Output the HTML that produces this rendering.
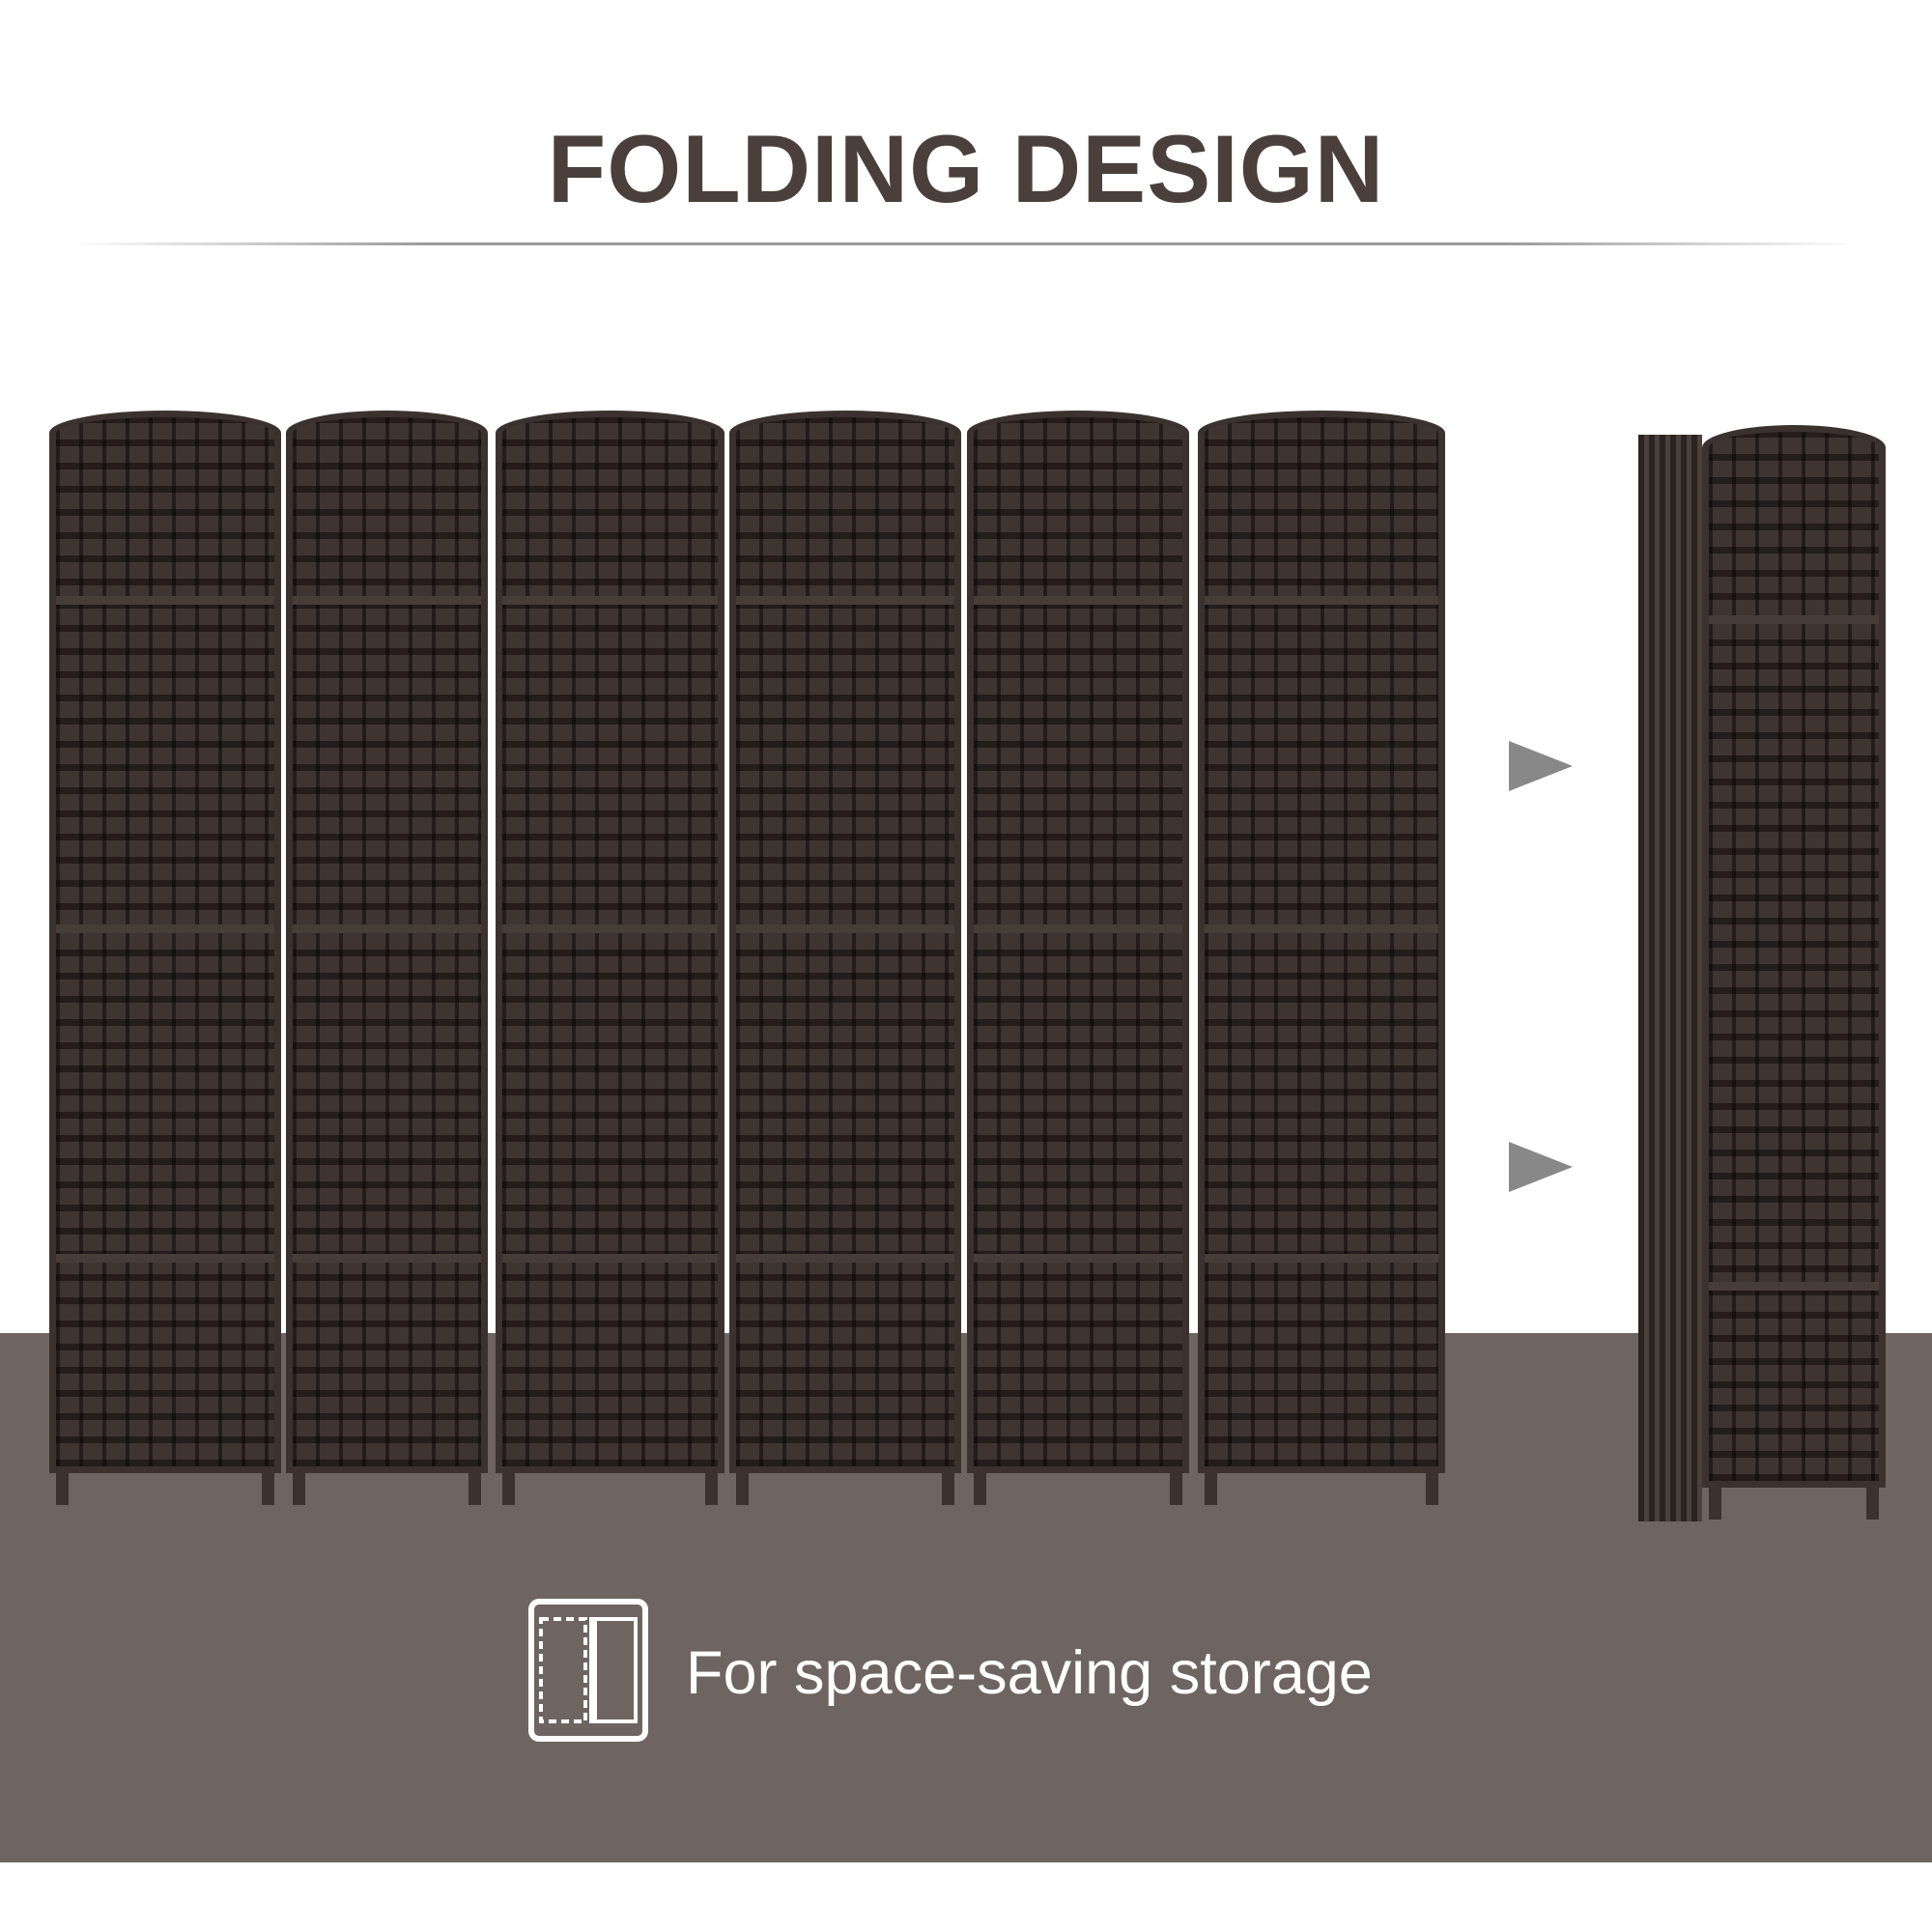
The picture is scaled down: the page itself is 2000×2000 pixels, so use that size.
<!DOCTYPE html>
<html><head><meta charset="utf-8"><style>
body{margin:0;width:2000px;height:2000px;background:#fff;position:relative;overflow:hidden;font-family:"Liberation Sans",sans-serif}
.title{position:absolute;left:0;width:2000px;top:118px;text-align:center;font-weight:bold;font-size:99px;color:#4a3f3b;letter-spacing:1px}
.line{position:absolute;left:75px;width:1850px;top:251px;height:3px;background:linear-gradient(90deg,rgba(150,150,150,0),#999 20%,#999 80%,rgba(150,150,150,0))}
.floor{position:absolute;left:0;top:1380px;width:2000px;height:548px;background:#6e6562}
.panel{position:absolute;top:425px;height:1100px;background:
repeating-linear-gradient(90deg,rgba(0,0,0,.45) 0 4px,transparent 4px 24px),
repeating-linear-gradient(0deg,#241d1b 0 7px,#3e3532 7px 24px);
border:7px solid #3b322f;border-radius:60% 60% 0 0/28px 28px 0 0;box-sizing:border-box}
.rail{position:absolute;left:0;right:0;height:9px;background:#463c38}
.leg{position:absolute;bottom:-40px;width:13px;height:40px;background:#3b322f}
.arrow{position:absolute;width:0;height:0;border-left:66px solid #888;border-top:26px solid transparent;border-bottom:26px solid transparent}
.text{position:absolute;left:710px;top:1696px;color:#fff;font-size:63px}
</style></head><body>
<div class="title">FOLDING DESIGN</div>
<div class="line"></div>
<div class="floor"></div>

<div class="panel" style="left:51px;width:240px"><div class="rail" style="top:185px"></div><div class="rail" style="top:525px"></div><div class="rail" style="top:866px"></div><div class="leg" style="left:0"></div><div class="leg" style="right:0"></div></div>
<div class="panel" style="left:296px;width:209px"><div class="rail" style="top:185px"></div><div class="rail" style="top:525px"></div><div class="rail" style="top:866px"></div><div class="leg" style="left:0"></div><div class="leg" style="right:0"></div></div>
<div class="panel" style="left:513px;width:237px"><div class="rail" style="top:185px"></div><div class="rail" style="top:525px"></div><div class="rail" style="top:866px"></div><div class="leg" style="left:0"></div><div class="leg" style="right:0"></div></div>
<div class="panel" style="left:755px;width:240px"><div class="rail" style="top:185px"></div><div class="rail" style="top:525px"></div><div class="rail" style="top:866px"></div><div class="leg" style="left:0"></div><div class="leg" style="right:0"></div></div>
<div class="panel" style="left:1001px;width:230px"><div class="rail" style="top:185px"></div><div class="rail" style="top:525px"></div><div class="rail" style="top:866px"></div><div class="leg" style="left:0"></div><div class="leg" style="right:0"></div></div>
<div class="panel" style="left:1240px;width:256px"><div class="rail" style="top:185px"></div><div class="rail" style="top:525px"></div><div class="rail" style="top:866px"></div><div class="leg" style="left:0"></div><div class="leg" style="right:0"></div></div>

<div class="arrow" style="left:1562px;top:767px"></div>
<div class="arrow" style="left:1562px;top:1182px"></div>

<div style="position:absolute;left:1696px;top:450px;width:66px;height:1125px;background:repeating-linear-gradient(90deg,#2b2321 0 6px,#4a403c 6px 11px)"></div>
<div class="panel" style="left:1762px;top:440px;width:190px;height:1100px"><div class="rail" style="top:190px"></div><div class="rail" style="top:880px"></div><div class="leg" style="left:0"></div><div class="leg" style="right:0"></div></div>

<svg style="position:absolute;left:546px;top:1654px" width="126" height="150" viewBox="0 0 126 150">
<rect x="4" y="4" width="118" height="142" rx="8" fill="none" stroke="#fff" stroke-width="6"/>
<rect x="14" y="22" width="46" height="106" fill="none" stroke="#fff" stroke-width="4" stroke-dasharray="8 5"/>
<rect x="66" y="22" width="46" height="106" fill="none" stroke="#fff" stroke-width="4"/>
<line x1="70" y1="24" x2="70" y2="126" stroke="#fff" stroke-width="4"/>
</svg>
<div class="text">For space-saving storage</div>
</body></html>
